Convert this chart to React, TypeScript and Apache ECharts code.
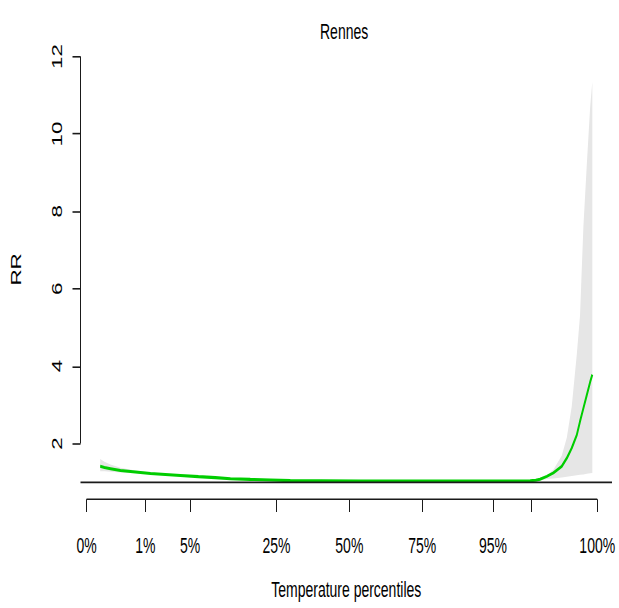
import React, { useEffect, useRef } from "react";
import * as echarts from "echarts";

// Exposure-response curve for Rennes: relative risk by mean temperature (°C)
const temps = [
  -6.0, -5.72, -5.33, -4.68, -3.71, -2.73, -1.76, -0.78, 0.39, 1.49, 2.47, 3.76,
  5.06, 6.36, 8.31, 10.91, 13.51, 16.11, 18.71, 21.31, 21.96, 22.32, 22.6, 23.04,
  23.47, 24.01, 24.34, 24.66, 24.99, 25.2, 25.42, 25.64, 25.86, 26.0,
];
const rr = [
  1.41, 1.38, 1.35, 1.3, 1.265, 1.226, 1.2, 1.175, 1.144, 1.118, 1.09, 1.072,
  1.059, 1.04, 1.035, 1.03, 1.03, 1.03, 1.03, 1.03, 1.035, 1.05, 1.075, 1.15,
  1.24, 1.41, 1.62, 1.88, 2.22, 2.57, 2.91, 3.25, 3.59, 3.78,
];
const rrLow = [
  1.28, 1.28, 1.27, 1.25, 1.235, 1.205, 1.18, 1.16, 1.13, 1.105, 1.08, 1.064,
  1.052, 1.034, 1.03, 1.025, 1.025, 1.025, 1.025, 1.025, 1.03, 1.04, 1.05, 1.08,
  1.095, 1.12, 1.14, 1.16, 1.18, 1.19, 1.2, 1.22, 1.23, 1.24,
];
const rrHigh = [
  1.6, 1.53, 1.46, 1.37, 1.3, 1.25, 1.22, 1.19, 1.16, 1.13, 1.1, 1.08,
  1.066, 1.045, 1.04, 1.035, 1.035, 1.035, 1.035, 1.035, 1.04, 1.06, 1.09, 1.17,
  1.32, 1.68, 2.15, 2.95, 4.3, 5.3, 7.6, 9.2, 10.7, 11.35,
];

// Temperature percentiles marked on the x axis (99% gets a tick only)
const pctLabels = ["0%", "1%", "5%", "25%", "50%", "75%", "95%", "99%", "100%"];
const pctTemps = [-6.89, -3.06, -0.16, 5.46, 10.2, 14.94, 19.54, 22.06, 26.32];
const pctLabelShown = [true, true, true, true, true, true, true, false, true];

const yTicks = [2, 4, 6, 8, 10, 12];
const yLimits = [1, 12];

const FONT = "'Liberation Sans', Arial, sans-serif";
const INK = "#1a1a1a";

// The figure is laid out on a shorter canvas and stretched vertically,
// like a device plot exported at a different aspect ratio.
const WIDTH = 619;
const HEIGHT = 608;
const STRETCH = 1.6;
const CANVAS_H = HEIGHT / STRETCH;

export default function App() {
  const ref = useRef<HTMLDivElement>(null);

  useEffect(() => {
    if (!ref.current) return;
    const chart = echarts.init(ref.current, null, { renderer: "svg" });

    // R-style 4% padding around the data / limits
    const tLo = temps[0];
    const tHi = temps[temps.length - 1];
    const xPad = 0.04 * (tHi - tLo);
    const xMin = tLo - xPad;
    const xMax = tHi + xPad;
    const yPad = 0.04 * (yLimits[1] - yLimits[0]);
    const yMin = yLimits[0] - yPad;
    const yMax = yLimits[1] + yPad;

    const labelFor = (v: number) => {
      const i = pctTemps.findIndex((t) => Math.abs(t - v) < 1e-6);
      return i >= 0 ? pctLabels[i] : "";
    };

    // Confidence band as one polygon: upper bound left→right, lower bound back
    const renderBand = (params: any, api: any) => {
      if (params.dataIndex !== 0) return null;
      const upper = temps.map((t, i) => api.coord([t, rrHigh[i]]));
      const lower = temps.map((t, i) => api.coord([t, rrLow[i]])).reverse();
      return {
        type: "polygon",
        shape: { points: upper.concat(lower) },
        style: { fill: "#E6E6E6", stroke: "none" },
        silent: true,
      };
    };

    const textStyle = { fontFamily: FONT, fontSize: 14, color: "#000" };

    chart.setOption({
      animation: false,
      backgroundColor: "#fff",
      title: {
        text: "Rennes",
        left: 320,
        top: 12.5,
        padding: 0,
        textStyle: { ...textStyle, fontWeight: "normal" },
      },
      grid: { left: 80.5, right: 7, top: 24.75, bottom: CANVAS_H - 314 },
      xAxis: {
        type: "value",
        min: xMin,
        max: xMax,
        axisLine: { show: false, onZero: false },
        splitLine: { show: false },
        axisTick: {
          show: true,
          customValues: pctTemps,
          length: 8,
          lineStyle: { color: INK, width: 1 },
        },
        axisLabel: {
          customValues: pctTemps.filter((_, i) => pctLabelShown[i]),
          formatter: (v: number) => labelFor(v),
          margin: 22,
          ...textStyle,
        },
        name: "Temperature percentiles",
        nameLocation: "middle",
        nameGap: 49,
        nameTextStyle: textStyle,
      },
      yAxis: {
        type: "value",
        min: yMin,
        max: yMax,
        axisLine: { show: false, onZero: false },
        splitLine: { show: false },
        axisTick: {
          show: true,
          customValues: yTicks,
          length: 8,
          lineStyle: { color: INK, width: 1 },
        },
        axisLabel: {
          customValues: yTicks,
          rotate: 90,
          margin: 16,
          ...textStyle,
        },
        name: "RR",
        nameLocation: "middle",
        nameGap: 57,
        nameRotate: 90,
        nameTextStyle: textStyle,
      },
      series: [
        {
          name: "ci",
          type: "custom",
          renderItem: renderBand,
          data: temps.map((t, i) => [t, rrLow[i], rrHigh[i]]),
          encode: { x: 0, y: [1, 2] },
          silent: true,
          z: 1,
        },
        {
          name: "reference",
          type: "line",
          data: [],
          markLine: {
            symbol: "none",
            silent: true,
            label: { show: false },
            lineStyle: { color: INK, width: 1, type: "solid" },
            data: [{ yAxis: 1 }],
          },
          z: 2,
        },
        {
          name: "RR",
          type: "line",
          data: temps.map((t, i) => [t, rr[i]]),
          symbol: "none",
          lineStyle: { color: "#00CD00", width: 1.9 },
          z: 3,
        },
        {
          name: "yAxisLine",
          type: "line",
          data: [
            [xMin, yTicks[0]],
            [xMin, yTicks[yTicks.length - 1]],
          ],
          symbol: "none",
          clip: false,
          silent: true,
          lineStyle: { color: INK, width: 1 },
          z: 4,
        },
        {
          name: "xAxisLine",
          type: "line",
          data: [
            [pctTemps[0], yMin],
            [pctTemps[pctTemps.length - 1], yMin],
          ],
          symbol: "none",
          clip: false,
          silent: true,
          lineStyle: { color: INK, width: 1 },
          z: 4,
        },
      ],
    });

    return () => chart.dispose();
  }, []);

  return (
    <div
      style={{
        position: "absolute",
        left: 0,
        top: 0,
        width: WIDTH,
        height: HEIGHT,
        overflow: "hidden",
        background: "#fff",
      }}
    >
      <div
        ref={ref}
        style={{
          width: WIDTH,
          height: CANVAS_H,
          transform: `scaleY(${STRETCH})`,
          transformOrigin: "0 0",
        }}
      />
    </div>
  );
}
